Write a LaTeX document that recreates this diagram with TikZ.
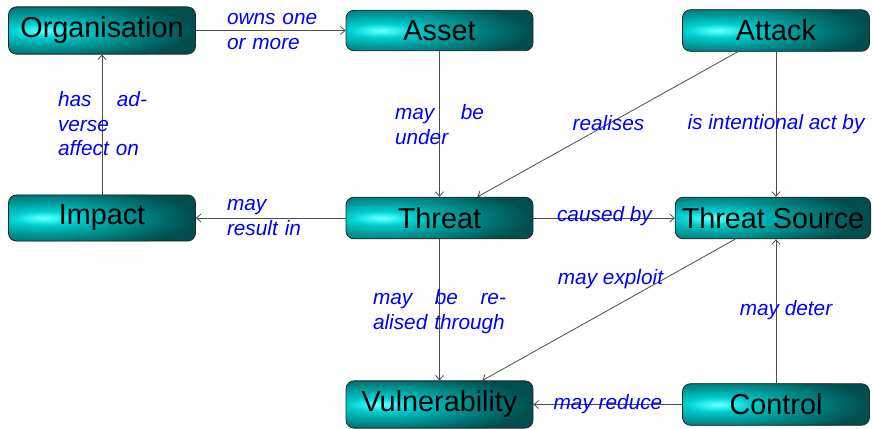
\documentclass[tikz,border=0pt]{standalone}
\usepackage{fontspec}
\setmainfont{Liberation Sans}
\usetikzlibrary{arrows.meta,calc}

% teal glow used to fill the concept boxes
\definecolor{glowA}{RGB}{120,255,255}
\definecolor{glowB}{RGB}{70,250,250}
\definecolor{glowC}{RGB}{0,205,205}
\definecolor{glowD}{RGB}{0,155,155}
\definecolor{glowE}{RGB}{0,112,112}
\definecolor{glowF}{RGB}{0,78,78}
% the path box maps to the central 50bp square, so 25bp is the rim
\pgfdeclareradialshading{glowspot}{\pgfpoint{0bp}{0bp}}{%
  color(0bp)=(glowA); color(1.5bp)=(glowB); color(5.5bp)=(glowC);
  color(12bp)=(glowD); color(19bp)=(glowE); color(25bp)=(glowF);
  color(50bp)=(glowF)}

\tikzset{
  concept/.style={draw=black!85, line width=0.8pt, rounded corners=8pt,
    minimum width=187pt, inner xsep=6.5pt, inner ysep=10.2pt,
    font=\fontsize{28.8}{34}\selectfont,
    path picture={
      \fill[glowF] (path picture bounding box.south west)
        rectangle (path picture bounding box.north east);
      \shade[shading=glowspot, yshift=3pt]
        ($(path picture bounding box.west)!0.19!(path picture bounding box.east)$)
        ellipse [x radius=150pt, y radius=32pt];
    }},
  conn/.style={draw=black!70, line width=0.8pt,
    -{Straight Barb[length=4.5pt,width=8pt]}},
  rel/.style={text=blue, inner sep=0pt,
    font=\fontsize{20.8}{24.4}\selectfont\itshape,
    execute at begin node=\strut, execute at end node=\strut},
  relbox/.style={rel, align=left, text width=#1}
}

\begin{document}
\begin{tikzpicture}[x=1pt, y=-1pt]
\useasboundingbox (0,0) rectangle (872,428);

% concepts
\node[concept] (org)    at (102,30.5)   {Organisation};
\node[concept] (asset)  at (439.5,30.5) {Asset};
\node[concept] (attack) at (776,30.5)   {Attack};
\node[concept] (impact) at (102,218)    {Impact};
\node[concept] (threat) at (439.5,218)  {Threat};
\node[concept] (tsrc)   at (773,218)    {Threat Source};
\node[concept] (vuln)   at (439.5,404.5){Vulnerability};
\node[concept] (ctrl)   at (776,404.5)  {Control};

% relations
\draw[conn] (org) -- (asset);
\draw[conn] (asset) -- (threat);
\draw[conn] (attack) -- (threat);
\draw[conn] (attack) -- (attack |- tsrc.north);
\draw[conn] (threat) -- (impact);
\draw[conn] (impact) -- (org);
\draw[conn] (threat) -- (tsrc);
\draw[conn] (threat) -- (vuln);
\draw[conn] (tsrc) -- (vuln);
\draw[conn] (ctrl) -- (ctrl |- tsrc.south);
\draw[conn] (ctrl) -- (vuln);

% relation labels
\node[relbox=100pt] (l-owns)    at (277,32.3)    {owns one\\or more};
\node[relbox=100pt] (l-result)  at (277,218.3)   {may\\result in};
\node[relbox=89pt]  (l-under)   at (439.5,127.3) {may\hfill be\\under};
\node[rel]          (l-real)    at (608.5,125.8) {realises};
\node[rel]          (l-intent)  at (776,125.1)   {is intentional act by};
\node[relbox=89pt]  (l-adverse) at (102.5,126.5) {has\hfill ad-\\verse\\affect on};
\node[rel]          (l-cause)   at (604.5,217.1) {caused by};
\node[relbox=133pt] (l-through) at (439.5,312.3) {may\hfill be\hfill re-\\alised through};
\node[rel]          (l-exploit) at (610.5,280.1) {may exploit};
\node[rel]          (l-deter)   at (786,311.1)   {may deter};
\node[rel]          (l-reduce)  at (608,405.1)   {may reduce};
\end{tikzpicture}
\end{document}
